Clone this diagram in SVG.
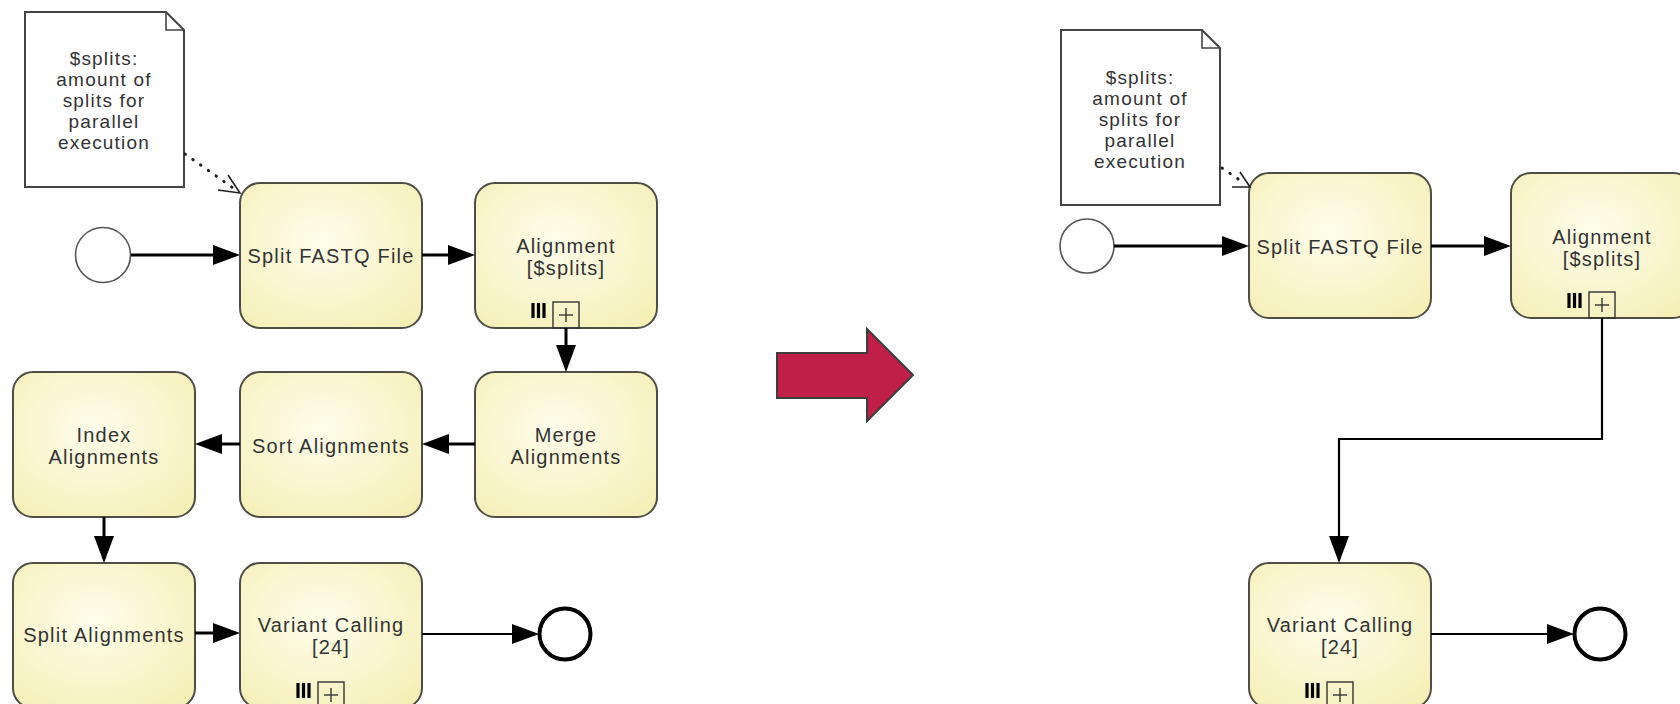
<svg xmlns="http://www.w3.org/2000/svg" width="1680" height="704" viewBox="0 0 1680 704">
  <defs>
    <radialGradient id="taskFill" cx="45%" cy="40%" r="80%">
      <stop offset="0" stop-color="#fefdeb"/>
      <stop offset="1" stop-color="#f4eeb2"/>
    </radialGradient>
    <!-- solid sequence-flow head, base sits on the line end -->
    <marker id="flowHead" markerUnits="userSpaceOnUse" markerWidth="28" markerHeight="22" refX="0" refY="10" orient="auto" overflow="visible">
      <path d="M0,0 L27,10 L0,20 Z" fill="#000"/>
    </marker>
  </defs>
  <style>
    .task { fill: url(#taskFill); stroke: #4e4e44; stroke-width: 2; }
    .label { font-family: "Liberation Sans", Arial, sans-serif; font-size: 20px; letter-spacing: 1.2px; fill: #333; text-anchor: middle; }
    .note { fill: #fff; stroke: #444; stroke-width: 2; }
    .fold { fill: none; stroke: #444; stroke-width: 1.6; }
    .noteText { font-family: "Liberation Sans", Arial, sans-serif; font-size: 19px; letter-spacing: 1.2px; fill: #333; text-anchor: middle; }
    .start { fill: #fff; stroke: #555; stroke-width: 1.6; }
    .end { fill: #fff; stroke: #000; stroke-width: 4; }
    .flow { fill: none; stroke: #000; stroke-width: 3; marker-end: url(#flowHead); }
    .flowThin { fill: none; stroke: #000; stroke-width: 2.2; marker-end: url(#flowHead); }
    .assoc { fill: none; stroke: #222; stroke-width: 3; stroke-dasharray: 0.5 9; stroke-linecap: round; }
    .assocHead { fill: none; stroke: #222; stroke-width: 1.6; }
    .bar { stroke: #000; stroke-width: 3.2; }
    .subBox { fill: none; stroke: #333; stroke-width: 1.4; }
    .plus { stroke: #333; stroke-width: 1.4; }
    .bigArrow { fill: #c01f48; stroke: #3d3d3d; stroke-width: 2; }
  </style>

  <rect width="1680" height="704" fill="#fff"/>

  <!-- ===================== left process ===================== -->
  <g id="left-note">
    <path class="note" d="M25,12 H166 L184,30 V187 H25 Z"/>
    <path class="fold" d="M166,12 V30 H184"/>
    <text class="noteText" x="104" y="65">$splits:</text>
    <text class="noteText" x="104" y="86">amount of</text>
    <text class="noteText" x="104" y="107">splits for</text>
    <text class="noteText" x="104" y="128">parallel</text>
    <text class="noteText" x="104" y="149">execution</text>
  </g>

  <g id="left-start">
    <circle class="start" cx="103" cy="255" r="27.5"/>
  </g>

  <g id="left-split-fastq">
    <rect class="task" x="240" y="183" width="182" height="145" rx="20"/>
    <text class="label" x="331" y="263">Split FASTQ File</text>
  </g>

  <g id="left-alignment">
    <rect class="task" x="475" y="183" width="182" height="145" rx="20"/>
    <text class="label" x="566" y="253">Alignment</text>
    <text class="label" x="566" y="275">[$splits]</text>
    <line class="bar" x1="533" y1="303" x2="533" y2="318"/>
    <line class="bar" x1="538.5" y1="303" x2="538.5" y2="318"/>
    <line class="bar" x1="544" y1="303" x2="544" y2="318"/>
    <rect class="subBox" x="553" y="302" width="26" height="26"/>
    <line class="plus" x1="559" y1="315" x2="573" y2="315"/>
    <line class="plus" x1="566" y1="308" x2="566" y2="322"/>
  </g>

  <g id="left-merge">
    <rect class="task" x="475" y="372" width="182" height="145" rx="20"/>
    <text class="label" x="566" y="442">Merge</text>
    <text class="label" x="566" y="464">Alignments</text>
  </g>

  <g id="left-sort">
    <rect class="task" x="240" y="372" width="182" height="145" rx="20"/>
    <text class="label" x="331" y="453">Sort Alignments</text>
  </g>

  <g id="left-index">
    <rect class="task" x="13" y="372" width="182" height="145" rx="20"/>
    <text class="label" x="104" y="442">Index</text>
    <text class="label" x="104" y="464">Alignments</text>
  </g>

  <g id="left-split-alignments">
    <rect class="task" x="13" y="563" width="182" height="145" rx="20"/>
    <text class="label" x="104" y="642">Split Alignments</text>
  </g>

  <g id="left-variant">
    <rect class="task" x="240" y="563" width="182" height="145" rx="20"/>
    <text class="label" x="331" y="632">Variant Calling</text>
    <text class="label" x="331" y="654">[24]</text>
    <line class="bar" x1="298" y1="683" x2="298" y2="698"/>
    <line class="bar" x1="303.5" y1="683" x2="303.5" y2="698"/>
    <line class="bar" x1="309" y1="683" x2="309" y2="698"/>
    <rect class="subBox" x="318" y="682" width="26" height="26"/>
    <line class="plus" x1="324" y1="695" x2="338" y2="695"/>
    <line class="plus" x1="331" y1="688" x2="331" y2="702"/>
  </g>

  <g id="left-end">
    <circle class="end" cx="565" cy="634" r="25.5"/>
  </g>

  <!-- ===================== transition arrow ===================== -->
  <g id="transition-arrow">
    <polygon class="bigArrow" points="777,353 867,353 867,329 913,375 867,421 867,398 777,398"/>
  </g>

  <!-- ===================== right process ===================== -->
  <g id="right-note">
    <path class="note" d="M1061,30 H1202 L1220,48 V205 H1061 Z"/>
    <path class="fold" d="M1202,30 V48 H1220"/>
    <text class="noteText" x="1140" y="84">$splits:</text>
    <text class="noteText" x="1140" y="105">amount of</text>
    <text class="noteText" x="1140" y="126">splits for</text>
    <text class="noteText" x="1140" y="147">parallel</text>
    <text class="noteText" x="1140" y="168">execution</text>
  </g>

  <g id="right-start">
    <circle class="start" cx="1087" cy="246" r="27"/>
  </g>

  <g id="right-split-fastq">
    <rect class="task" x="1249" y="173" width="182" height="145" rx="20"/>
    <text class="label" x="1340" y="254">Split FASTQ File</text>
  </g>

  <g id="right-alignment">
    <rect class="task" x="1511" y="173" width="182" height="145" rx="20"/>
    <text class="label" x="1602" y="244">Alignment</text>
    <text class="label" x="1602" y="266">[$splits]</text>
    <line class="bar" x1="1569" y1="293" x2="1569" y2="308"/>
    <line class="bar" x1="1574.5" y1="293" x2="1574.5" y2="308"/>
    <line class="bar" x1="1580" y1="293" x2="1580" y2="308"/>
    <rect class="subBox" x="1589" y="292" width="26" height="26"/>
    <line class="plus" x1="1595" y1="305" x2="1609" y2="305"/>
    <line class="plus" x1="1602" y1="298" x2="1602" y2="312"/>
  </g>

  <g id="right-variant">
    <rect class="task" x="1249" y="563" width="182" height="145" rx="20"/>
    <text class="label" x="1340" y="632">Variant Calling</text>
    <text class="label" x="1340" y="654">[24]</text>
    <line class="bar" x1="1307" y1="683" x2="1307" y2="698"/>
    <line class="bar" x1="1312.5" y1="683" x2="1312.5" y2="698"/>
    <line class="bar" x1="1318" y1="683" x2="1318" y2="698"/>
    <rect class="subBox" x="1327" y="682" width="26" height="26"/>
    <line class="plus" x1="1333" y1="695" x2="1347" y2="695"/>
    <line class="plus" x1="1340" y1="688" x2="1340" y2="702"/>
  </g>

  <g id="right-end">
    <circle class="end" cx="1600" cy="634" r="25.5"/>
  </g>

  <!-- ===================== connectors ===================== -->
  <g id="connectors">
    <!-- left -->
    <path class="assoc" d="M185,154 L236,190"/>
    <path class="assocHead" d="M228,175 L240,193 L218,190"/>
    <path class="flow" d="M131,255 H213"/>
    <path class="flow" d="M422,255 H448"/>
    <path class="flow" d="M566,328 V345"/>
    <path class="flow" d="M475,444 H449"/>
    <path class="flow" d="M240,444 H222"/>
    <path class="flow" d="M104,517 V536"/>
    <path class="flow" d="M195,633 H213"/>
    <path class="flowThin" d="M422,634 H512"/>
    <!-- right -->
    <path class="assoc" d="M1222,168 L1244,183"/>
    <path class="assocHead" d="M1240,172 L1250,187 L1232,187"/>
    <path class="flow" d="M1114,246 H1222"/>
    <path class="flow" d="M1431,246 H1484"/>
    <path class="flowThin" d="M1602,318 V439 H1339 V536"/>
    <path class="flowThin" d="M1431,634 H1547"/>
  </g>
</svg>
